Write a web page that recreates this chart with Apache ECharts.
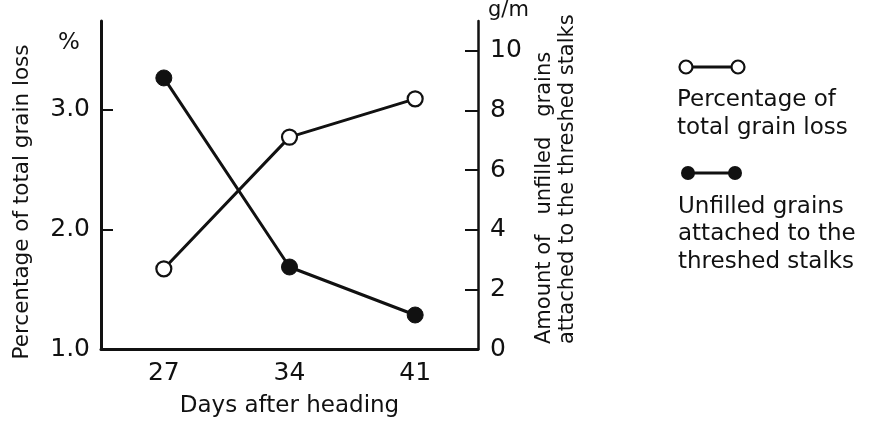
<!DOCTYPE html>
<html>
<head>
<meta charset="utf-8">
<script src="https://cdn.jsdelivr.net/npm/echarts@6/dist/echarts.min.js"></script>
<style>
  html, body { margin: 0; padding: 0; background: #fff; }
  #chart { width: 877px; height: 425px; }
</style>
</head>
<body>
<div id="chart"></div>
<script>
// days after heading
let days = ['27', '34', '41'];
// % of total grain loss (left axis)
let grainLoss = [1.67, 2.77, 3.09];
// unfilled grains on threshed stalks, g/m (right axis)
let unfilled = [9.09, 2.75, 1.14];
let leftTicks = [1, 2, 3];
let rightTicks = [0, 2, 4, 6, 8, 10];

let font = 'DejaVu Sans';
let ink = '#111';

let chart = echarts.init(document.getElementById('chart'));

let option = {
  backgroundColor: '#fff',
  animation: false,
  textStyle: { fontFamily: font, color: ink },
  grid: { left: 101, right: 399, top: 21, bottom: 76 },
  xAxis: {
    type: 'category',
    data: days,
    boundaryGap: true,
    name: 'Days after heading',
    nameLocation: 'middle',
    nameGap: 46,
    nameTextStyle: { fontSize: 23, color: ink, fontFamily: font },
    axisLine: { lineStyle: { color: ink, width: 3 } },
    axisTick: { inside: true, alignWithLabel: true, length: 13, lineStyle: { color: ink, width: 2 } },
    axisLabel: { fontSize: 25, color: ink, margin: 12, fontFamily: font },
    splitLine: { show: false }
  },
  yAxis: [
    {
      type: 'value',
      min: 1,
      max: 3.74,
      position: 'left',
      axisLine: { show: true, lineStyle: { color: ink, width: 3 } },
      axisTick: { show: true, inside: true, length: 12, customValues: leftTicks, lineStyle: { color: ink, width: 2 } },
      axisLabel: {
        fontSize: 25, color: ink, margin: 11, fontFamily: font,
        customValues: leftTicks,
        formatter: v => v.toFixed(1)
      },
      splitLine: { show: false }
    },
    {
      type: 'value',
      min: 0,
      max: 11,
      position: 'right',
      axisLine: { show: true, lineStyle: { color: ink, width: 2.5 } },
      axisTick: { show: true, inside: true, length: 13, customValues: rightTicks, lineStyle: { color: ink, width: 2 } },
      axisLabel: { fontSize: 25, color: ink, margin: 12, fontFamily: font, customValues: rightTicks },
      splitLine: { show: false }
    }
  ],
  series: [
    {
      name: 'Percentage of total grain loss',
      type: 'line',
      yAxisIndex: 0,
      data: grainLoss,
      symbol: 'circle',
      symbolSize: 15,
      lineStyle: { color: ink, width: 3 },
      itemStyle: { color: '#fff', borderColor: ink, borderWidth: 2.2 },
      z: 3
    },
    {
      name: 'Unfilled grains attached to the threshed stalks',
      type: 'line',
      yAxisIndex: 1,
      data: unfilled,
      symbol: 'circle',
      symbolSize: 16,
      lineStyle: { color: ink, width: 3 },
      itemStyle: { color: ink, borderColor: ink, borderWidth: 1 },
      z: 2
    }
  ],
  graphic: [
    // axis titles
    { type: 'text', left: 58, top: 32, style: { text: '%', fontSize: 23, fill: ink, fontFamily: font } },
    { type: 'text', left: 488, top: 0, style: { text: 'g/m', fontSize: 21, fill: ink, fontFamily: font } },
    {
      type: 'text', x: 22, y: 202, rotation: Math.PI / 2,
      style: { text: 'Percentage of total grain loss', fontSize: 21.5, fill: ink, fontFamily: font, align: 'center', verticalAlign: 'middle' }
    },
    {
      type: 'text', x: 556, y: 344, rotation: Math.PI / 2,
      style: {
        text: 'Amount of   unfilled   grains\nattached to the threshed stalks',
        fontSize: 21, lineHeight: 23, fill: ink, fontFamily: font, align: 'left', verticalAlign: 'middle'
      }
    },
    // legend
    { type: 'line', shape: { x1: 686, y1: 67, x2: 738, y2: 67 }, style: { stroke: ink, lineWidth: 3 } },
    { type: 'circle', shape: { cx: 686, cy: 67, r: 6.5 }, style: { fill: '#fff', stroke: ink, lineWidth: 2.2 } },
    { type: 'circle', shape: { cx: 738, cy: 67, r: 6.5 }, style: { fill: '#fff', stroke: ink, lineWidth: 2.2 } },
    {
      type: 'text', left: 677, top: 86,
      style: { text: 'Percentage of\ntotal grain loss', fontSize: 23, lineHeight: 28, fill: ink, fontFamily: font }
    },
    { type: 'line', shape: { x1: 688, y1: 173, x2: 735, y2: 173 }, style: { stroke: ink, lineWidth: 3 } },
    { type: 'circle', shape: { cx: 688, cy: 173, r: 7 }, style: { fill: ink } },
    { type: 'circle', shape: { cx: 735, cy: 173, r: 7 }, style: { fill: ink } },
    {
      type: 'text', left: 678, top: 193,
      style: { text: 'Unfilled grains\nattached to the\nthreshed stalks', fontSize: 23, lineHeight: 27.5, fill: ink, fontFamily: font }
    }
  ]
};

chart.setOption(option);
</script>
</body>
</html>
